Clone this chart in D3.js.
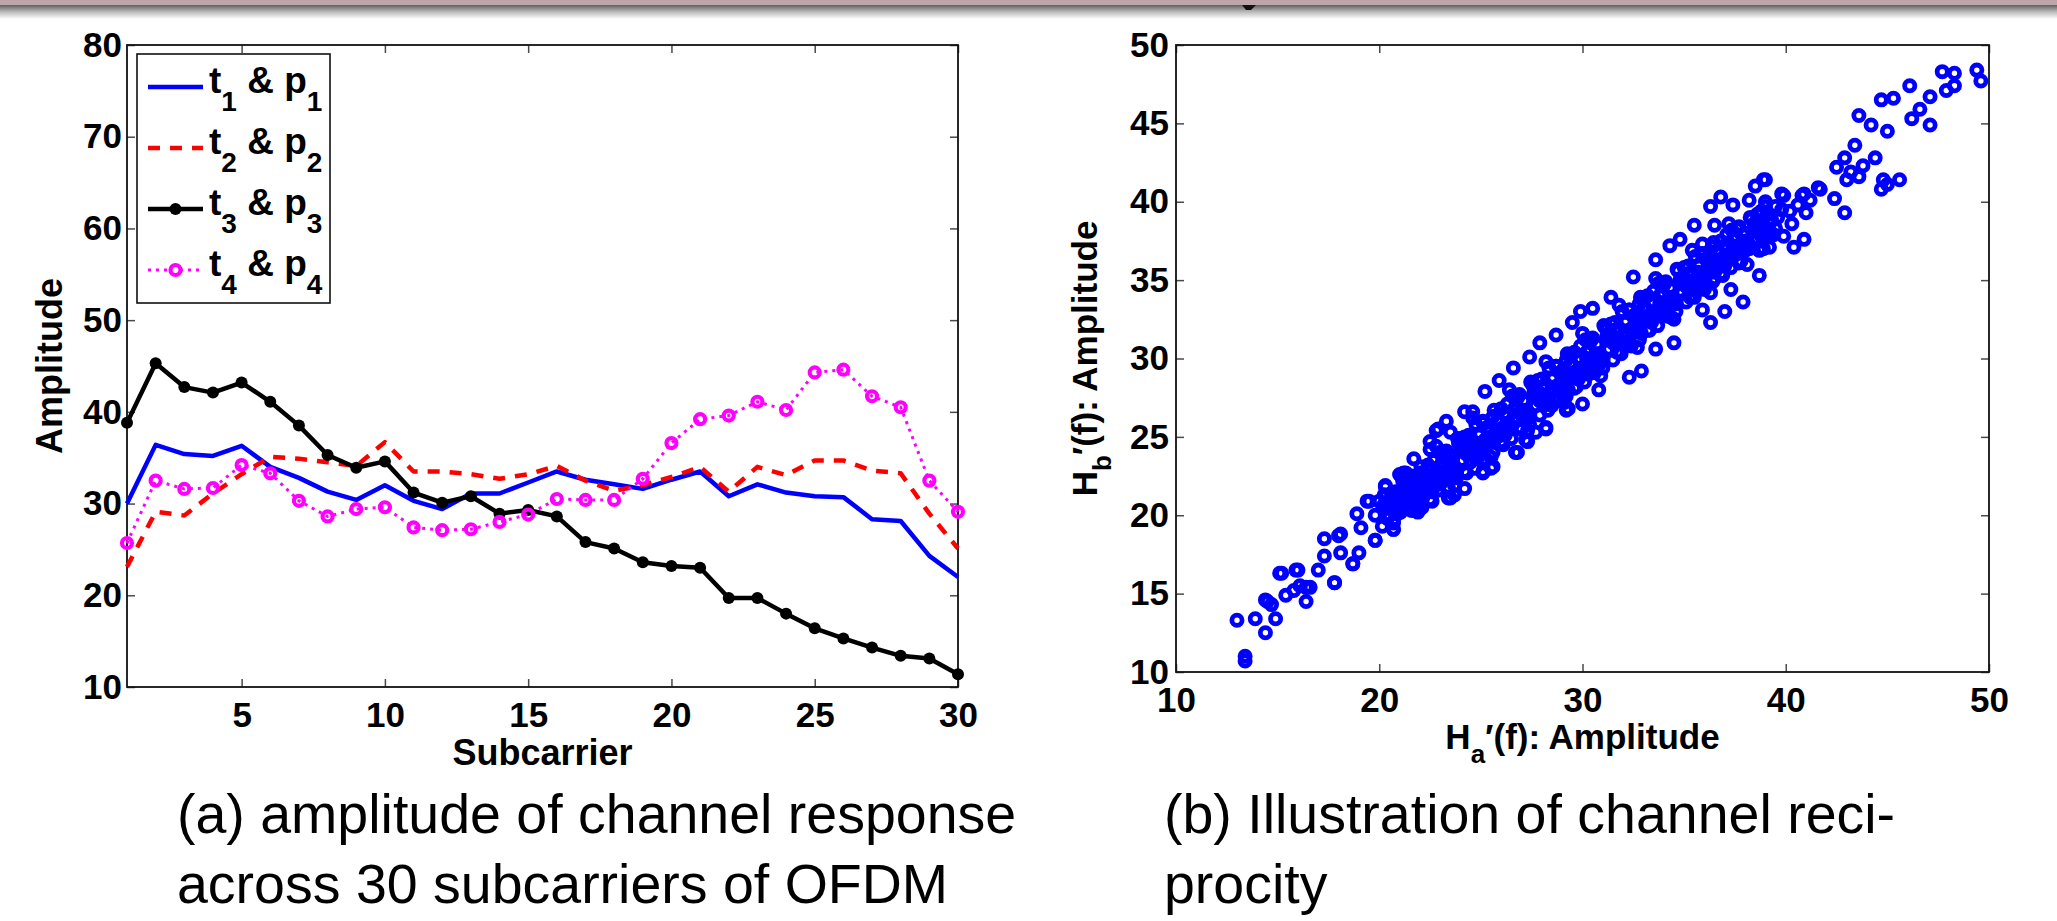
<!DOCTYPE html>
<html>
<head>
<meta charset="utf-8">
<script src="https://cdn.jsdelivr.net/npm/d3@7"></script>
<style>
 body { margin: 0; background: #fff; }
 svg { display: block; font-family: "Liberation Sans", Arial, Helvetica, sans-serif; }
</style>
</head>
<body>
<svg id="fig" width="2057" height="921"></svg>
<script>
// ---- panel (a): amplitude per subcarrier ----
var subcarrier = [1,2,3,4,5,6,7,8,9,10,11,12,13,14,15,16,17,18,19,20,21,22,23,24,25,26,27,28,29,30];
var ampT1P1 = [30.0,36.4,35.4,35.2,36.3,34.0,32.8,31.3,30.4,32.0,30.3,29.4,31.1,31.1,32.3,33.5,32.6,32.1,31.6,32.6,33.5,30.8,32.1,31.2,30.8,30.7,28.3,28.1,24.3,22.0];
var ampT2P2 = [23.1,29.1,28.7,31.1,33.2,35.1,34.9,34.5,34.1,36.7,33.5,33.5,33.2,32.7,33.2,34.1,32.5,31.4,32.0,32.9,34.0,31.3,34.0,33.1,34.7,34.7,33.6,33.3,28.9,25.1];
var ampT3P3 = [38.8,45.3,42.7,42.1,43.2,41.1,38.5,35.3,33.9,34.6,31.2,30.1,30.8,28.9,29.3,28.6,25.8,25.1,23.6,23.2,23.0,19.7,19.7,18.0,16.4,15.3,14.3,13.4,13.1,11.4];
var ampT4P4 = [25.7,32.5,31.6,31.7,34.2,33.3,30.3,28.6,29.4,29.6,27.4,27.1,27.2,28.0,28.8,30.5,30.4,30.4,32.7,36.6,39.2,39.6,41.1,40.2,44.3,44.6,41.7,40.5,32.5,29.1];
var seriesNames = ["1", "2", "3", "4"];
var xTicksA = [5,10,15,20,25,30];
var yTicksA = [10,20,30,40,50,60,70,80];

// ---- panel (b): H_a'(f) vs H_b'(f) amplitude pairs ----
var reciprocityCore = [
 [20.2,20.6],[20.4,19.8],[20.6,21.1],[20.8,20.3],[21.0,21.4],[21.1,20.6],[21.3,21.9],[21.4,20.9],[21.6,21.2],[21.7,22.3],
 [21.9,21.5],[22.0,20.8],[22.2,22.6],[22.3,21.7],[22.5,22.1],[22.6,23.0],[22.8,22.3],[22.9,21.6],[23.1,23.4],[23.2,22.6],
 [23.4,22.9],[23.5,23.8],[23.7,23.1],[23.8,22.4],[24.0,24.2],[24.1,23.5],[24.3,23.9],[24.4,24.7],[24.6,23.8],[24.7,23.0],
 [24.9,25.1],[25.0,24.4],[25.2,24.8],[25.3,25.6],[25.5,24.7],[25.6,24.0],[25.8,26.0],[25.9,25.2],[26.1,25.6],[26.2,26.5],
 [26.4,25.8],[26.5,24.9],[26.7,26.9],[26.8,26.1],[27.0,26.4],[27.1,27.3],[27.3,26.6],[27.4,25.8],[27.6,27.8],[27.7,27.0],
 [27.9,27.3],[28.0,28.2],[28.2,27.5],[28.3,26.7],[28.5,28.7],[28.6,27.9],[28.8,28.3],[28.9,29.1],[29.1,28.4],[29.2,27.6],
 [29.4,29.6],[29.5,28.8],[29.7,29.2],[29.8,30.0],[30.0,29.3],[30.1,28.5],[30.3,30.5],[30.4,29.7],[30.6,30.1],[30.7,30.9],
 [30.9,30.2],[31.0,29.4],[31.2,31.4],[31.3,30.6],[31.5,31.0],[31.6,31.8],[31.8,31.1],[31.9,30.3],[32.1,32.3],[32.2,31.5],
 [32.4,31.9],[32.5,32.7],[32.7,32.0],[32.8,31.2],[33.0,33.2],[33.1,32.4],[33.3,32.8],[33.4,33.6],[33.6,32.9],[33.7,32.1],
 [33.9,34.1],[34.0,33.3],[34.2,33.7],[34.3,34.5],[34.5,33.8],[34.6,33.0],[34.8,35.0],[34.9,34.2],[35.1,34.6],[35.2,35.4],
 [35.4,34.7],[35.5,33.9],[35.7,35.9],[35.8,35.1],[36.0,35.5],[36.1,36.3],[36.3,35.6],[36.4,34.9],[36.6,36.8],[36.7,36.0],
 [36.9,36.4],[37.0,37.2],[37.2,36.5],[37.3,35.8],[37.5,37.6],[37.6,36.9],[37.8,37.3],[38.0,38.0],[38.2,37.2],[38.4,37.6],
 [38.6,38.4],[38.8,37.8],[39.0,38.2],[39.3,38.9],[39.5,38.3],
 [20.5,20.0],[21.2,21.6],[21.8,20.5],[22.4,22.9],[23.0,22.0],[23.6,23.4],[24.2,22.8],[24.8,24.6],[25.4,25.3],[26.0,24.7],
 [26.6,26.2],[27.2,26.0],[27.8,27.6],[28.4,27.2],[29.0,28.8],[29.6,28.1],[30.2,30.0],[30.8,29.6],[31.4,31.2],[32.0,30.9],
 [32.6,32.4],[33.2,31.8],[33.8,33.5],[34.4,32.6],[35.0,34.8],[35.6,34.3],[36.2,36.0],[36.8,35.4],[37.4,37.1],[38.0,36.9],
 [38.6,37.6],[39.2,37.8],
 [20.3,21.2],[20.9,20.1],[21.5,22.0],[22.1,21.0],[22.7,23.5],[23.3,22.5],[23.9,24.6],[24.5,23.4],[25.1,26.0],[25.7,24.9],
 [26.3,27.1],[26.9,25.6],[27.5,28.4],[28.1,27.0],[28.7,29.5],[29.3,28.0],[29.9,30.8],[30.5,29.2],[31.1,32.0],[31.7,30.4],
 [32.3,33.1],[32.9,31.6],[33.5,34.3],[34.1,32.8],[34.7,35.6],[35.3,33.9],[35.9,36.7],[36.5,35.1],[37.1,37.9],[37.7,36.1],
 [38.3,38.9],[38.9,37.0],
 [20.6,20.5],[21.2,20.9],[21.8,21.8],[22.4,22.0],[23.0,23.1],[23.6,22.9],[24.2,24.3],[24.8,24.1],[25.4,25.5],[26.0,25.4],
 [26.6,26.7],[27.2,26.5],[27.8,27.9],[28.4,27.8],[29.0,29.2],[29.6,29.0],[30.2,30.4],[30.8,30.3],[31.4,31.6],[32.0,31.4],
 [32.6,32.8],[33.2,32.6],[33.8,34.0],[34.4,33.9],[35.0,35.2],[35.6,35.0],[36.2,36.5],[36.8,36.2],[37.4,37.6],[38.0,37.5],
 [38.6,38.8],[39.2,38.6],
 [20.8,21.5],[21.4,20.4],[22.0,22.7],[22.6,21.5],[23.2,23.9],[23.8,22.7],[24.4,25.1],[25.0,23.9],[25.6,26.3],[26.2,25.1],
 [26.8,27.5],[27.4,26.3],[28.0,28.7],[28.6,27.5],[29.2,29.9],[29.8,28.7],[30.4,31.1],[31.0,29.9],[31.6,32.3],[32.2,31.1],
 [32.8,33.5],[33.4,32.3],[34.0,34.7],[34.6,33.5],[35.2,35.9],[35.8,34.7],[36.4,37.1],[37.0,35.9],[37.6,38.3],[38.2,37.0],
 [38.8,39.4],[39.4,37.9],
 [21.0,22.6],[21.9,20.2],[22.8,24.4],[23.7,21.9],[24.6,26.2],[25.5,23.7],[26.4,28.0],[27.3,25.4],[28.2,29.8],[29.1,27.2],
 [30.0,31.6],[30.9,28.9],[31.8,33.4],[32.7,30.7],[33.6,35.1],[34.5,32.5],[35.4,36.9],[36.3,34.2],[37.2,38.6],[38.1,36.0],
 [39.0,40.0],[39.9,37.8],
 [20.0,20.9],[20.7,20.7],[21.6,22.5],[22.2,21.3],[23.1,22.2],[24.0,24.9],[24.9,24.2],[25.8,25.0],[26.7,26.0],[27.6,28.2],
 [28.5,27.0],[29.4,30.2],[30.3,29.0],[31.2,31.9],[32.1,30.8],[33.0,33.8],[33.9,33.1],[34.8,34.3],[35.7,35.5],[36.6,35.7],
 [37.5,36.6],[38.4,38.2],[39.6,39.0],[40.2,39.4],[40.6,39.8],[41.2,40.1],
 [20.25,21.3],[20.7,19.6],[21.15,22.2],[21.6,20.3],[22.05,23.1],[22.5,21.0],[22.95,24.0],[23.4,21.8],[23.85,24.9],[24.3,22.7],
 [24.75,25.8],[25.2,23.6],[25.65,26.7],[26.1,24.5],[26.55,27.6],[27.0,25.5],[27.45,28.5],[27.9,26.4],[28.35,29.4],[28.8,27.3],
 [29.25,30.3],[29.7,28.2],[30.15,31.2],[30.6,29.1],[31.05,32.1],[31.5,29.9],[31.95,33.0],[32.4,30.8],[32.85,33.9],[33.3,31.8],
 [33.75,34.8],[34.2,32.7],[34.65,35.7],[35.1,33.6],[35.55,36.5],[36.0,34.4],[36.45,37.4],[36.9,35.3],[37.35,38.2],[37.8,36.2],
 [38.25,39.0],[38.7,36.9],
 [20.45,20.8],[20.9,20.6],[21.35,21.6],[21.8,21.3],[22.25,22.5],[22.7,22.2],[23.15,23.4],[23.6,23.1],[24.05,24.3],[24.5,24.0],
 [24.95,25.2],[25.4,24.9],[25.85,26.1],[26.3,25.8],[26.75,27.0],[27.2,26.7],[27.65,27.9],[28.1,27.6],[28.55,28.8],[29.0,28.5],
 [29.45,29.7],[29.9,29.4],[30.35,30.6],[30.8,30.3],[31.25,31.5],[31.7,31.2],[32.15,32.4],[32.6,32.1],[33.05,33.3],[33.5,33.0],
 [33.95,34.2],[34.4,33.9],[34.85,35.1],[35.3,34.8],[35.75,36.0],[36.2,35.7],[36.65,36.9],[37.1,36.6],[37.55,37.8],[38.0,37.4],
 [38.45,38.6],[38.9,38.1],
 [20.15,19.3],[20.6,21.4],[21.05,20.2],[21.5,22.3],[21.95,21.1],[22.4,23.2],[22.85,22.0],[23.3,24.1],[23.75,22.9],[24.2,25.0],
 [24.65,23.8],[25.1,25.9],[25.55,24.7],[26.0,26.8],[26.45,25.6],[26.9,27.7],[27.35,26.5],[27.8,28.6],[28.25,27.4],[28.7,29.5],
 [29.15,28.3],[29.6,30.4],[30.05,29.2],[30.5,31.3],[30.95,30.1],[31.4,32.2],[31.85,31.0],[32.3,33.1],[32.75,31.9],[33.2,34.0],
 [33.65,32.8],[34.1,34.9],[34.55,33.7],[35.0,35.8],[35.45,34.6],[35.9,36.6],[36.35,35.5],[36.8,37.5],[37.25,36.4],[37.7,38.4],
 [38.15,37.3],[38.6,39.2],[39.05,38.0],[39.5,39.7]
];
var reciprocitySpread = [
 [13.0,13.3],[13.4,11.0],[13.4,10.7],[13.9,13.4],[14.4,12.5],[14.9,13.4],[14.5,14.5],[14.7,14.3],[14.4,14.6],[15.1,16.3],
 [15.4,14.9],[15.2,16.3],[15.9,16.5],[16.0,16.5],[16.1,15.5],[16.6,15.4],[16.4,14.5],[15.8,15.2],[16.4,15.4],[17.0,16.5],
 [17.3,17.4],[17.3,18.5],[17.8,15.7],[18.0,18.7],[18.1,17.6],[18.1,18.8],[18.7,16.9],[19.0,17.6],[18.9,20.1],[19.1,19.2],
 [19.4,20.9],[19.5,20.9],[19.8,20.0],[19.8,18.4],[20.3,21.9],[20.3,20.8],[20.3,21.8],[20.7,19.5],[20.7,19.1],[21.2,22.7],
 [21.3,22.7],[21.7,23.6],[22.5,24.7],[22.5,24.2],[22.8,25.4],[22.9,25.5],[23.3,26.0],[23.5,25.3],[24.2,26.6],[24.6,26.6],
 [25.2,27.9],[25.9,28.6],[26.6,29.4],[27.4,30.1],[27.9,31.0],[28.7,31.5],[29.5,32.3],[29.9,33.0],[30.5,33.2],[31.4,33.9],
 [32.5,35.2],[33.6,36.3],[34.3,37.2],[34.8,37.6],[35.9,37.3],[35.5,38.5],[36.5,38.5],[37.9,37.9],[36.3,39.7],[36.8,40.3],
 [37.4,39.8],[38.2,40.1],[38.5,41.0],[38.9,41.4],[39.0,39.7],[39.8,39.5],[40.3,38.6],[39.8,40.5],[40.8,40.4],[41.0,39.3],
 [40.9,37.6],[40.4,37.1],[39.2,37.1],[41.7,40.8],[42.4,40.2],[42.9,39.3],[39.0,41.4],[39.9,40.4],[41.6,40.9],[40.9,40.5],
 [22.1,20.5],[22.6,20.9],[23.4,21.1],[23.7,21.3],[24.2,21.7],[25.1,22.8],[25.6,23.1],[26.8,24.0],[27.3,24.7],[27.7,25.3],
 [28.2,25.6],[29.3,26.8],[30.0,27.1],[29.2,26.7],[28.2,25.5],[27.2,24.8],[26.7,24.0],[25.5,23.0],[25.1,22.7],[23.5,21.1],
 [22.0,20.4],[20.7,19.1],[19.8,18.4],[18.7,16.9],[17.8,15.7],[30.8,28.0],[32.3,28.8],[32.9,29.2],[33.6,30.6],[34.5,31.0],
 [35.9,33.1],[36.3,32.3],[37.0,33.0],[37.9,33.6],[37.3,34.4],[38.7,35.3],
 [42.5,42.2],[42.9,42.8],[43.0,41.4],[43.2,41.9],[43.6,41.6],[43.8,42.3],[44.4,42.8],[43.4,43.6],[44.7,40.8],[45.0,41.1],
 [45.6,41.4],[44.8,41.4],[43.6,45.5],[44.2,44.9],[45.0,44.5],[44.7,46.5],[45.3,46.6],[46.1,47.4],[46.2,45.3],[46.6,45.9],
 [47.1,44.9],[47.1,46.7],[47.9,47.1],[48.3,47.4],[47.7,48.3],[48.3,48.2],[49.4,48.4],[49.6,47.7]
];
var xTicksB = [10,20,30,40,50];
var yTicksB = [10,15,20,25,30,35,40,45,50];

var captionA = ["(a) amplitude of channel response", "across 30 subcarriers of OFDM"];
var captionB = ["(b) Illustration of channel reci-", "procity"];

var svg = d3.select("#fig");

// top strip left over from the page scan
var defs = svg.append("defs");
var grad = defs.append("linearGradient").attr("id", "shade").attr("x1", 0).attr("y1", 0).attr("x2", 0).attr("y2", 1);
grad.append("stop").attr("offset", "0%").attr("stop-color", "#5f5f5f");
grad.append("stop").attr("offset", "45%").attr("stop-color", "#b4b4b4");
grad.append("stop").attr("offset", "100%").attr("stop-color", "#ffffff");
svg.append("rect").attr("x", 0).attr("y", 0).attr("width", 2057).attr("height", 5).attr("fill", "#bda5ab");
svg.append("rect").attr("x", 0).attr("y", 5).attr("width", 2057).attr("height", 14).attr("fill", "url(#shade)");
svg.append("path").attr("d", "M1242,5 L1256,5 L1251,10 L1246,10 Z").attr("fill", "#111");

// scales
var xA = d3.scaleLinear().domain([1, 30]).range([127, 958]);
var yA = d3.scaleLinear().domain([10, 80]).range([687, 45]);
var xB = d3.scaleLinear().domain([10, 50]).range([1176, 1989]);
var yB = d3.scaleLinear().domain([10, 50]).range([672, 45]);

function drawAxes(g, x, y, xt, yt, padX, padY) {
 var x0 = x.range()[0], x1 = x.range()[1], y0 = y.range()[0], y1 = y.range()[1];
 var axes = [
  g.append("g").attr("transform", "translate(0," + y0 + ")")
   .call(d3.axisBottom(x).tickValues(xt).tickSizeInner(-8).tickSizeOuter(0).tickPadding(padX)),
  g.append("g").attr("transform", "translate(" + x0 + ",0)")
   .call(d3.axisLeft(y).tickValues(yt).tickSizeInner(-8).tickSizeOuter(0).tickPadding(padY)),
  g.append("g").attr("transform", "translate(0," + y1 + ")")
   .call(d3.axisTop(x).tickValues(xt).tickSizeInner(-8).tickSizeOuter(0).tickFormat("")),
  g.append("g").attr("transform", "translate(" + x1 + ",0)")
   .call(d3.axisRight(y).tickValues(yt).tickSizeInner(-8).tickSizeOuter(0).tickFormat(""))
 ];
 axes.forEach(function(a) {
  a.select(".domain").remove();
  a.selectAll(".tick line").attr("stroke", "#4a4a4a").attr("stroke-width", 1.5);
  a.selectAll(".tick text").attr("font-size", 35).attr("font-weight", "bold")
   .attr("font-family", "'Liberation Sans', Arial, sans-serif").attr("fill", "#000");
 });
 g.append("rect")
  .attr("x", x0).attr("y", y1)
  .attr("width", x1 - x0).attr("height", y0 - y1)
  .attr("fill", "none").attr("stroke", "#111").attr("stroke-width", 1.8);
}

// ---------- panel (a) ----------
var ga = svg.append("g");
drawAxes(ga, xA, yA, xTicksA, yTicksA, 15, 5);

var line = d3.line()
 .x(function(d, i) { return xA(subcarrier[i]); })
 .y(function(d) { return yA(d); });

var styles = [
 { data: ampT1P1, color: "#0000ff", width: 4.5, dash: null, marker: null },
 { data: ampT2P2, color: "#ff0000", width: 4.5, dash: "12,10", marker: null },
 { data: ampT3P3, color: "#000000", width: 4.5, dash: null, marker: "dot" },
 { data: ampT4P4, color: "#ff00ff", width: 3, dash: "3,5", marker: "ring" }
];

styles.forEach(function(s) {
 ga.append("path")
  .attr("d", line(s.data))
  .attr("fill", "none")
  .attr("stroke", s.color)
  .attr("stroke-width", s.width)
  .attr("stroke-linejoin", "round")
  .attr("stroke-dasharray", s.dash);
 if (s.marker == "dot") {
  ga.selectAll(null).data(s.data).enter().append("circle")
   .attr("cx", function(d, i) { return xA(subcarrier[i]); })
   .attr("cy", function(d) { return yA(d); })
   .attr("r", 6).attr("fill", s.color);
 } else if (s.marker == "ring") {
  ga.selectAll(null).data(s.data).enter().append("circle")
   .attr("cx", function(d, i) { return xA(subcarrier[i]); })
   .attr("cy", function(d) { return yA(d); })
   .attr("r", 5).attr("fill", "none").attr("stroke", s.color).attr("stroke-width", 4.2);
 }
});

// legend
var lg = ga.append("g");
lg.append("rect").attr("x", 137).attr("y", 54).attr("width", 193).attr("height", 249)
 .attr("fill", "#fff").attr("stroke", "#111").attr("stroke-width", 1.6);
styles.forEach(function(s, i) {
 var yy = 87 + i * 61;
 lg.append("line").attr("x1", 148).attr("x2", 203).attr("y1", yy).attr("y2", yy)
  .attr("stroke", s.color).attr("stroke-width", s.width).attr("stroke-dasharray", s.dash);
 if (s.marker == "dot") {
  lg.append("circle").attr("cx", 175.5).attr("cy", yy).attr("r", 6).attr("fill", s.color);
 } else if (s.marker == "ring") {
  lg.append("circle").attr("cx", 175.5).attr("cy", yy).attr("r", 5)
   .attr("fill", "#fff").attr("stroke", s.color).attr("stroke-width", 4.2);
 }
 var t = lg.append("text").attr("x", 209).attr("y", yy + 6)
  .attr("font-size", 37).attr("font-weight", "bold");
 t.append("tspan").text("t");
 t.append("tspan").attr("dy", 18).attr("font-size", 28).text(seriesNames[i]);
 t.append("tspan").attr("dy", -18).text(" & p");
 t.append("tspan").attr("dy", 18).attr("font-size", 28).text(seriesNames[i]);
});

ga.append("text")
 .attr("x", (xA.range()[0] + xA.range()[1]) / 2).attr("y", 765)
 .attr("text-anchor", "middle").attr("font-size", 36).attr("font-weight", "bold")
 .text("Subcarrier");
ga.append("text")
 .attr("transform", "translate(62," + (yA.range()[0] + yA.range()[1]) / 2 + ") rotate(-90)")
 .attr("text-anchor", "middle").attr("font-size", 36).attr("font-weight", "bold")
 .text("Amplitude");

// ---------- panel (b) ----------
var gb = svg.append("g");
drawAxes(gb, xB, yB, xTicksB, yTicksB, 15, 7);

gb.selectAll(".pt")
 .data(reciprocitySpread.concat(reciprocityCore))
 .enter().append("circle")
 .attr("class", "pt")
 .attr("cx", function(d) { return xB(d[0]); })
 .attr("cy", function(d) { return yB(d[1]); })
 .attr("r", 5.1)
 .attr("fill", "none")
 .attr("stroke", "#0000ff")
 .attr("stroke-width", 4.8);

var xl = gb.append("text")
 .attr("x", (xB.range()[0] + xB.range()[1]) / 2).attr("y", 749)
 .attr("text-anchor", "middle").attr("font-size", 35).attr("font-weight", "bold");
xl.append("tspan").text("H");
xl.append("tspan").attr("dy", 14).attr("font-size", 26).text("a");
xl.append("tspan").attr("dy", -14).text("\u2032(f): Amplitude");

var yl = gb.append("text")
 .attr("transform", "translate(1097," + (yB.range()[0] + yB.range()[1]) / 2 + ") rotate(-90)")
 .attr("text-anchor", "middle").attr("font-size", 35).attr("font-weight", "bold");
yl.append("tspan").text("H");
yl.append("tspan").attr("dy", 14).attr("font-size", 26).text("b");
yl.append("tspan").attr("dy", -14).text("\u2032(f): Amplitude");

// ---------- captions ----------
function caption(lines, x) {
 svg.append("g").selectAll("text")
  .data(lines)
  .enter().append("text")
  .attr("x", x)
  .attr("y", function(d, i) { return 833 + i * 70; })
  .attr("font-size", 55.5)
  .attr("fill", "#000")
  .text(function(d) { return d; });
}
caption(captionA, 177);
caption(captionB, 1164);
</script>
</body>
</html>
